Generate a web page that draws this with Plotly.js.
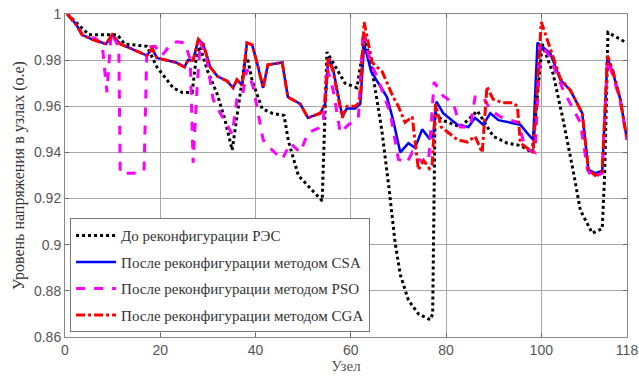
<!DOCTYPE html>
<html>
<head>
<meta charset="utf-8">
<script src="https://cdn.plot.ly/plotly-3.0.1.min.js"></script>
<style>html,body{margin:0;padding:0;background:#fff;}#chart{width:639px;height:376px;}</style>
</head>
<body>
<div id="chart"></div>
<script>
// Series names
const seriesNames = [
  "До реконфигурации РЭС",
  "После реконфигурации методом CSA",
  "После реконфигурации методом PSO",
  "После реконфигурации методом CGA"
];
// Axis ticks
const xTicks = [0, 20, 40, 60, 80, 100, 118];
const yTicks = [0.86, 0.88, 0.9, 0.92, 0.94, 0.96, 0.98, 1];

// Before reconfiguration (black dotted)
const beforeX = [0.5, 3, 5, 11, 12.5, 17.2, 19.3, 22.7, 24.6, 26.7, 27.5, 28.3, 30, 32, 33.6, 35.1, 36.3, 37.8, 38.3, 39.3, 41.4, 43.5, 46, 46.9, 49, 52.5, 54, 55, 58.8, 61.3, 63, 64.7, 66.5, 68, 69.3, 70.4, 72.1, 74.2, 76.7, 77.2, 77.7, 79.2, 83, 86.6, 89.9, 92.9, 95.6, 98.1, 100.2, 102.5, 104.5, 106.7, 108.2, 110.7, 112.8, 113.3, 114, 117.5];
const beforeY = [1.0, 0.995, 0.991, 0.991, 0.987, 0.986, 0.977, 0.968, 0.966, 0.966, 0.980, 0.986, 0.975, 0.965, 0.954, 0.941, 0.958, 0.980, 0.981, 0.971, 0.959, 0.957, 0.956, 0.945, 0.930, 0.922, 0.919, 0.9835, 0.970, 0.968, 0.990, 0.973, 0.950, 0.925, 0.901, 0.887, 0.876, 0.870, 0.8675, 0.870, 0.957, 0.954, 0.951, 0.958, 0.947, 0.944, 0.943, 0.940, 0.987, 0.974, 0.955, 0.932, 0.915, 0.905, 0.907, 0.930, 0.992, 0.988];

// CSA (blue solid)
const csaX = [0.5, 2.5, 3.6, 5.7, 8.6, 9.9, 11.6, 15.5, 17.2, 18.3, 19.3, 23.3, 25.1, 25.8, 26.9, 28, 29, 30.5, 32, 34, 35.3, 36.1, 37.2, 38.2, 39.3, 40.3, 41.6, 42.6, 45.6, 46.8, 49.4, 51, 53.6, 54.6, 55.3, 56.3, 58.2, 59.2, 60.9, 62, 62.8, 64.3, 65.5, 67.6, 68.9, 70.4, 72.1, 73.5, 75, 76.5, 77.3, 78, 79.4, 82.4, 84.7, 86.1, 87.8, 89.3, 91, 93.5, 95.6, 97, 98.3, 99.2, 101.9, 104, 106.1, 108.6, 109.9, 111.3, 112.8, 113.9, 115.1, 116.6, 118];
const csaY = [1.0, 0.995, 0.991, 0.989, 0.987, 0.991, 0.987, 0.9835, 0.982, 0.985, 0.981, 0.979, 0.977, 0.980, 0.980, 0.989, 0.987, 0.977, 0.973, 0.971, 0.968, 0.9715, 0.969, 0.9875, 0.9866, 0.979, 0.968, 0.978, 0.979, 0.964, 0.961, 0.955, 0.957, 0.961, 0.981, 0.976, 0.956, 0.959, 0.959, 0.961, 0.987, 0.975, 0.971, 0.964, 0.954, 0.940, 0.944, 0.942, 0.950, 0.946, 0.947, 0.962, 0.957, 0.952, 0.951, 0.955, 0.952, 0.957, 0.954, 0.953, 0.952, 0.9485, 0.9455, 0.9875, 0.983, 0.9715, 0.967, 0.957, 0.9325, 0.931, 0.932, 0.981, 0.974, 0.963, 0.9455];

// PSO (magenta dashed)
const psoX = [0.5, 2.5, 3.6, 6.3, 7.8, 8.8, 9.7, 11.3, 11.6, 14.5, 16.6, 17.2, 18.9, 20.4, 22.1, 23.5, 25.2, 26.3, 26.9, 27.7, 28.4, 29.8, 31.1, 32.6, 35.1, 36.1, 37.2, 38.2, 39.5, 41.6, 43.5, 45.6, 47.3, 49.4, 51, 53.2, 54.2, 55, 56.3, 57.8, 59.5, 61.6, 62.6, 64.1, 65.5, 68.3, 70, 71.8, 72.9, 74.2, 76.3, 77.5, 79.4, 81.5, 83, 85.1, 86.1, 87.8, 89.3, 91.4, 93.5, 95.2, 96.6, 98.7, 99.8, 101.9, 104.6, 108.2, 109.7, 110.7, 112.8, 113.9, 115.1, 116.6, 118];
const psoY = [1.0, 0.995, 0.991, 0.9895, 0.987, 0.966, 0.992, 0.9857, 0.931, 0.931, 0.932, 0.9857, 0.986, 0.982, 0.9867, 0.988, 0.9875, 0.980, 0.9355, 0.967, 0.988, 0.980, 0.963, 0.957, 0.948, 0.963, 0.964, 0.976, 0.9685, 0.9455, 0.941, 0.937, 0.944, 0.940, 0.9485, 0.9505, 0.953, 0.977, 0.967, 0.9485, 0.952, 0.955, 0.993, 0.979, 0.973, 0.957, 0.937, 0.9355, 0.940, 0.937, 0.935, 0.9705, 0.9645, 0.9615, 0.951, 0.951, 0.964, 0.964, 0.9585, 0.9555, 0.954, 0.953, 0.942, 0.940, 0.9875, 0.981, 0.967, 0.953, 0.9325, 0.929, 0.931, 0.980, 0.973, 0.962, 0.9455];

// CGA (red dash-dot)
const cgaX = [0.5, 2.5, 3.6, 5.7, 8.6, 9.9, 11.6, 15.5, 17.2, 18.3, 19.3, 23.3, 25.1, 25.8, 26.9, 28, 29, 30.5, 32, 34, 35.3, 36.1, 37.2, 38.2, 39.3, 40.3, 41.6, 42.6, 45.6, 46.8, 49.4, 51, 53.6, 54.6, 55.3, 56.3, 57.1, 58.2, 59.2, 60.9, 62, 62.8, 64.5, 66.6, 68.9, 70, 71.4, 72.9, 74.2, 75.3, 76.5, 77.1, 77.8, 79, 82.4, 84.5, 86.1, 87.6, 88.6, 89.9, 92, 94.1, 95, 95.6, 98.3, 100, 101.9, 104, 106.1, 108.6, 109.9, 111.3, 112.8, 113.9, 115.1, 116.6, 118];
const cgaY = [1.0, 0.995, 0.991, 0.989, 0.987, 0.991, 0.987, 0.9835, 0.982, 0.985, 0.981, 0.979, 0.977, 0.980, 0.980, 0.989, 0.987, 0.977, 0.973, 0.971, 0.968, 0.9715, 0.969, 0.9875, 0.9866, 0.979, 0.968, 0.978, 0.979, 0.964, 0.961, 0.955, 0.957, 0.961, 0.9815, 0.975, 0.966, 0.955, 0.960, 0.960, 0.962, 0.9965, 0.979, 0.975, 0.964, 0.960, 0.953, 0.9555, 0.9325, 0.9365, 0.933, 0.935, 0.961, 0.951, 0.9455, 0.9445, 0.947, 0.940, 0.9685, 0.963, 0.9615, 0.9615, 0.960, 0.944, 0.940, 0.9965, 0.985, 0.972, 0.967, 0.957, 0.9325, 0.930, 0.932, 0.982, 0.975, 0.963, 0.9455];

const serif = "Liberation Serif, Times New Roman, serif";
const sans = "Liberation Sans, Arial, sans-serif";

const traces = [
  {x: beforeX, y: beforeY, name: seriesNames[0], legendgroup: "a",
   mode: "lines", line: {color: "#000000", width: 3, dash: "dot"}},
  {x: csaX, y: csaY, name: seriesNames[1], legendgroup: "b",
   mode: "lines", line: {color: "#0000ff", width: 2.5}},
  {x: psoX, y: psoY, name: seriesNames[2], legendgroup: "c",
   mode: "lines", line: {color: "#ff00ff", width: 3, dash: "dash"}},
  {x: cgaX, y: cgaY, name: seriesNames[3], legendgroup: "d",
   mode: "lines", line: {color: "#ff0000", width: 3, dash: "dashdot"}}
];

const layout = {
  width: 639, height: 376,
  margin: {l: 65, r: 12, t: 14, b: 39},
  paper_bgcolor: "#ffffff", plot_bgcolor: "#ffffff",
  showlegend: true,
  legend: {
    x: 0.009, y: 0.015, xanchor: "left", yanchor: "bottom",
    bgcolor: "#ffffff", bordercolor: "#777777", borderwidth: 1,
    font: {family: serif, size: 15, color: "#333333"},
    traceorder: "grouped", tracegroupgap: 4, itemwidth: 40
  },
  xaxis: {
    range: [0, 118], tickvals: xTicks, ticktext: xTicks.map(String),
    showgrid: true, gridcolor: "#a8a8a8", gridwidth: 1,
    zeroline: false, showline: true, linecolor: "#888888", mirror: "ticks",
    ticks: "inside", ticklen: 4, tickcolor: "#666666",
    tickfont: {family: sans, size: 14, color: "#555555"},
    title: {text: "Узел", font: {family: serif, size: 15, color: "#555555"}, standoff: 2}
  },
  yaxis: {
    range: [0.86, 1], tickvals: yTicks, ticktext: yTicks.map(String),
    showgrid: true, gridcolor: "#a8a8a8", gridwidth: 1,
    zeroline: false, showline: true, linecolor: "#888888", mirror: "ticks",
    ticks: "inside", ticklen: 4, tickcolor: "#666666",
    tickfont: {family: sans, size: 14, color: "#555555"},
    title: {text: "Уровень напряжения в узлах (о.е)", font: {family: serif, size: 16, color: "#333333"}, standoff: 5}
  }
};

Plotly.newPlot("chart", traces, layout, {staticPlot: true, displayModeBar: false});
</script>
</body>
</html>
